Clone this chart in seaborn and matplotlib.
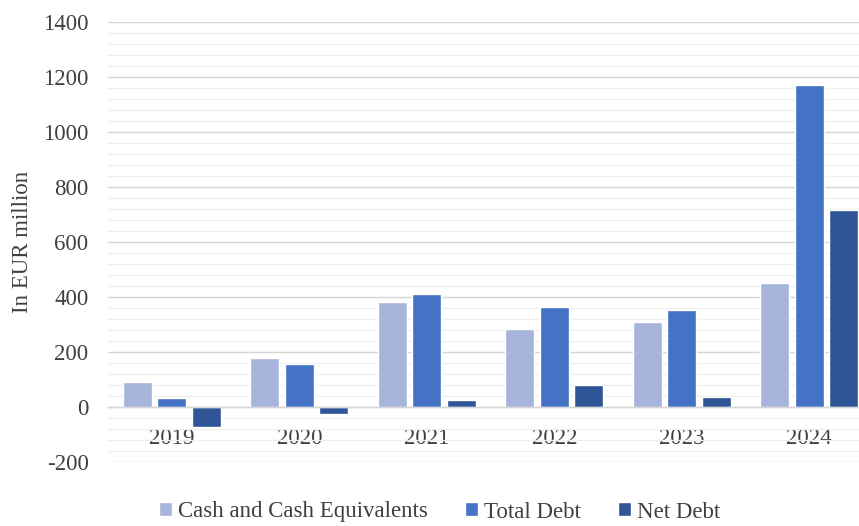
import matplotlib
matplotlib.use("Agg")
import matplotlib.pyplot as plt
from matplotlib.ticker import MultipleLocator
import seaborn as sns
import pandas as pd

years = ["2019", "2020", "2021", "2022", "2023", "2024"]
series_names = ["Cash and Cash Equivalents", "Total Debt", "Net Debt"]
cash = [92, 177, 381, 283, 310, 450]
total_debt = [32, 156, 410, 365, 353, 1171]
net_debt = [-72, -25, 24, 80, 37, 716]
y_ticks = [-200, 0, 200, 400, 600, 800, 1000, 1200, 1400]
colors = ["#A7B4DB", "#4472C4", "#2F5597"]

df = pd.DataFrame({
    "Year": years * 3,
    "Series": [s for s in series_names for _ in years],
    "Value": cash + total_debt + net_debt,
})

sns.set_theme(style="white")
plt.rcParams["font.family"] = ["Liberation Serif", "DejaVu Serif"]
plt.rcParams["axes.unicode_minus"] = False

fig = plt.figure(figsize=(8.59, 5.26), dpi=100)
ax = fig.add_axes([108 / 859, 1 - 462 / 526, 1 - 108 / 859, 440 / 526])

sns.barplot(data=df, x="Year", y="Value", hue="Series", order=years,
            hue_order=series_names, palette=colors, width=0.81, gap=0.16,
            saturation=1, ax=ax, legend=True)

ax.set_ylim(-200, 1400)
ax.set_xlim(-0.5, 5.39)
ax.set_yticks(y_ticks)
ax.yaxis.set_minor_locator(MultipleLocator(40))
ax.grid(axis="y", which="major", color="#d6d6d6", linewidth=1.0)
ax.grid(axis="y", which="minor", color="#efefef", linewidth=0.9)
ax.set_axisbelow(True)

for side in ["top", "right", "left"]:
    ax.spines[side].set_visible(False)
ax.spines["bottom"].set_position(("data", 0))
ax.spines["bottom"].set_color("#d6d6d6")
ax.spines["bottom"].set_linewidth(1.0)

ax.tick_params(axis="x", length=0, pad=15, labelsize=16.5, labelcolor="#404040")
ax.tick_params(axis="y", which="both", length=0, pad=14, labelsize=16.5,
               labelcolor="#404040")
ax.set_xlabel("")
ax.set_ylabel("In EUR million", fontsize=16.5, color="#404040", labelpad=7)

handles, labels = ax.get_legend_handles_labels()
ax.get_legend().remove()
fig.legend(handles, labels, loc="center", bbox_to_anchor=(0.512, 1 - 512 / 526),
           ncol=3, frameon=False, fontsize=16.5, handlelength=0.55,
           handleheight=0.55, handletextpad=0.3, columnspacing=1.6,
           labelcolor="#404040")

fig.savefig("out.png", dpi=100)
